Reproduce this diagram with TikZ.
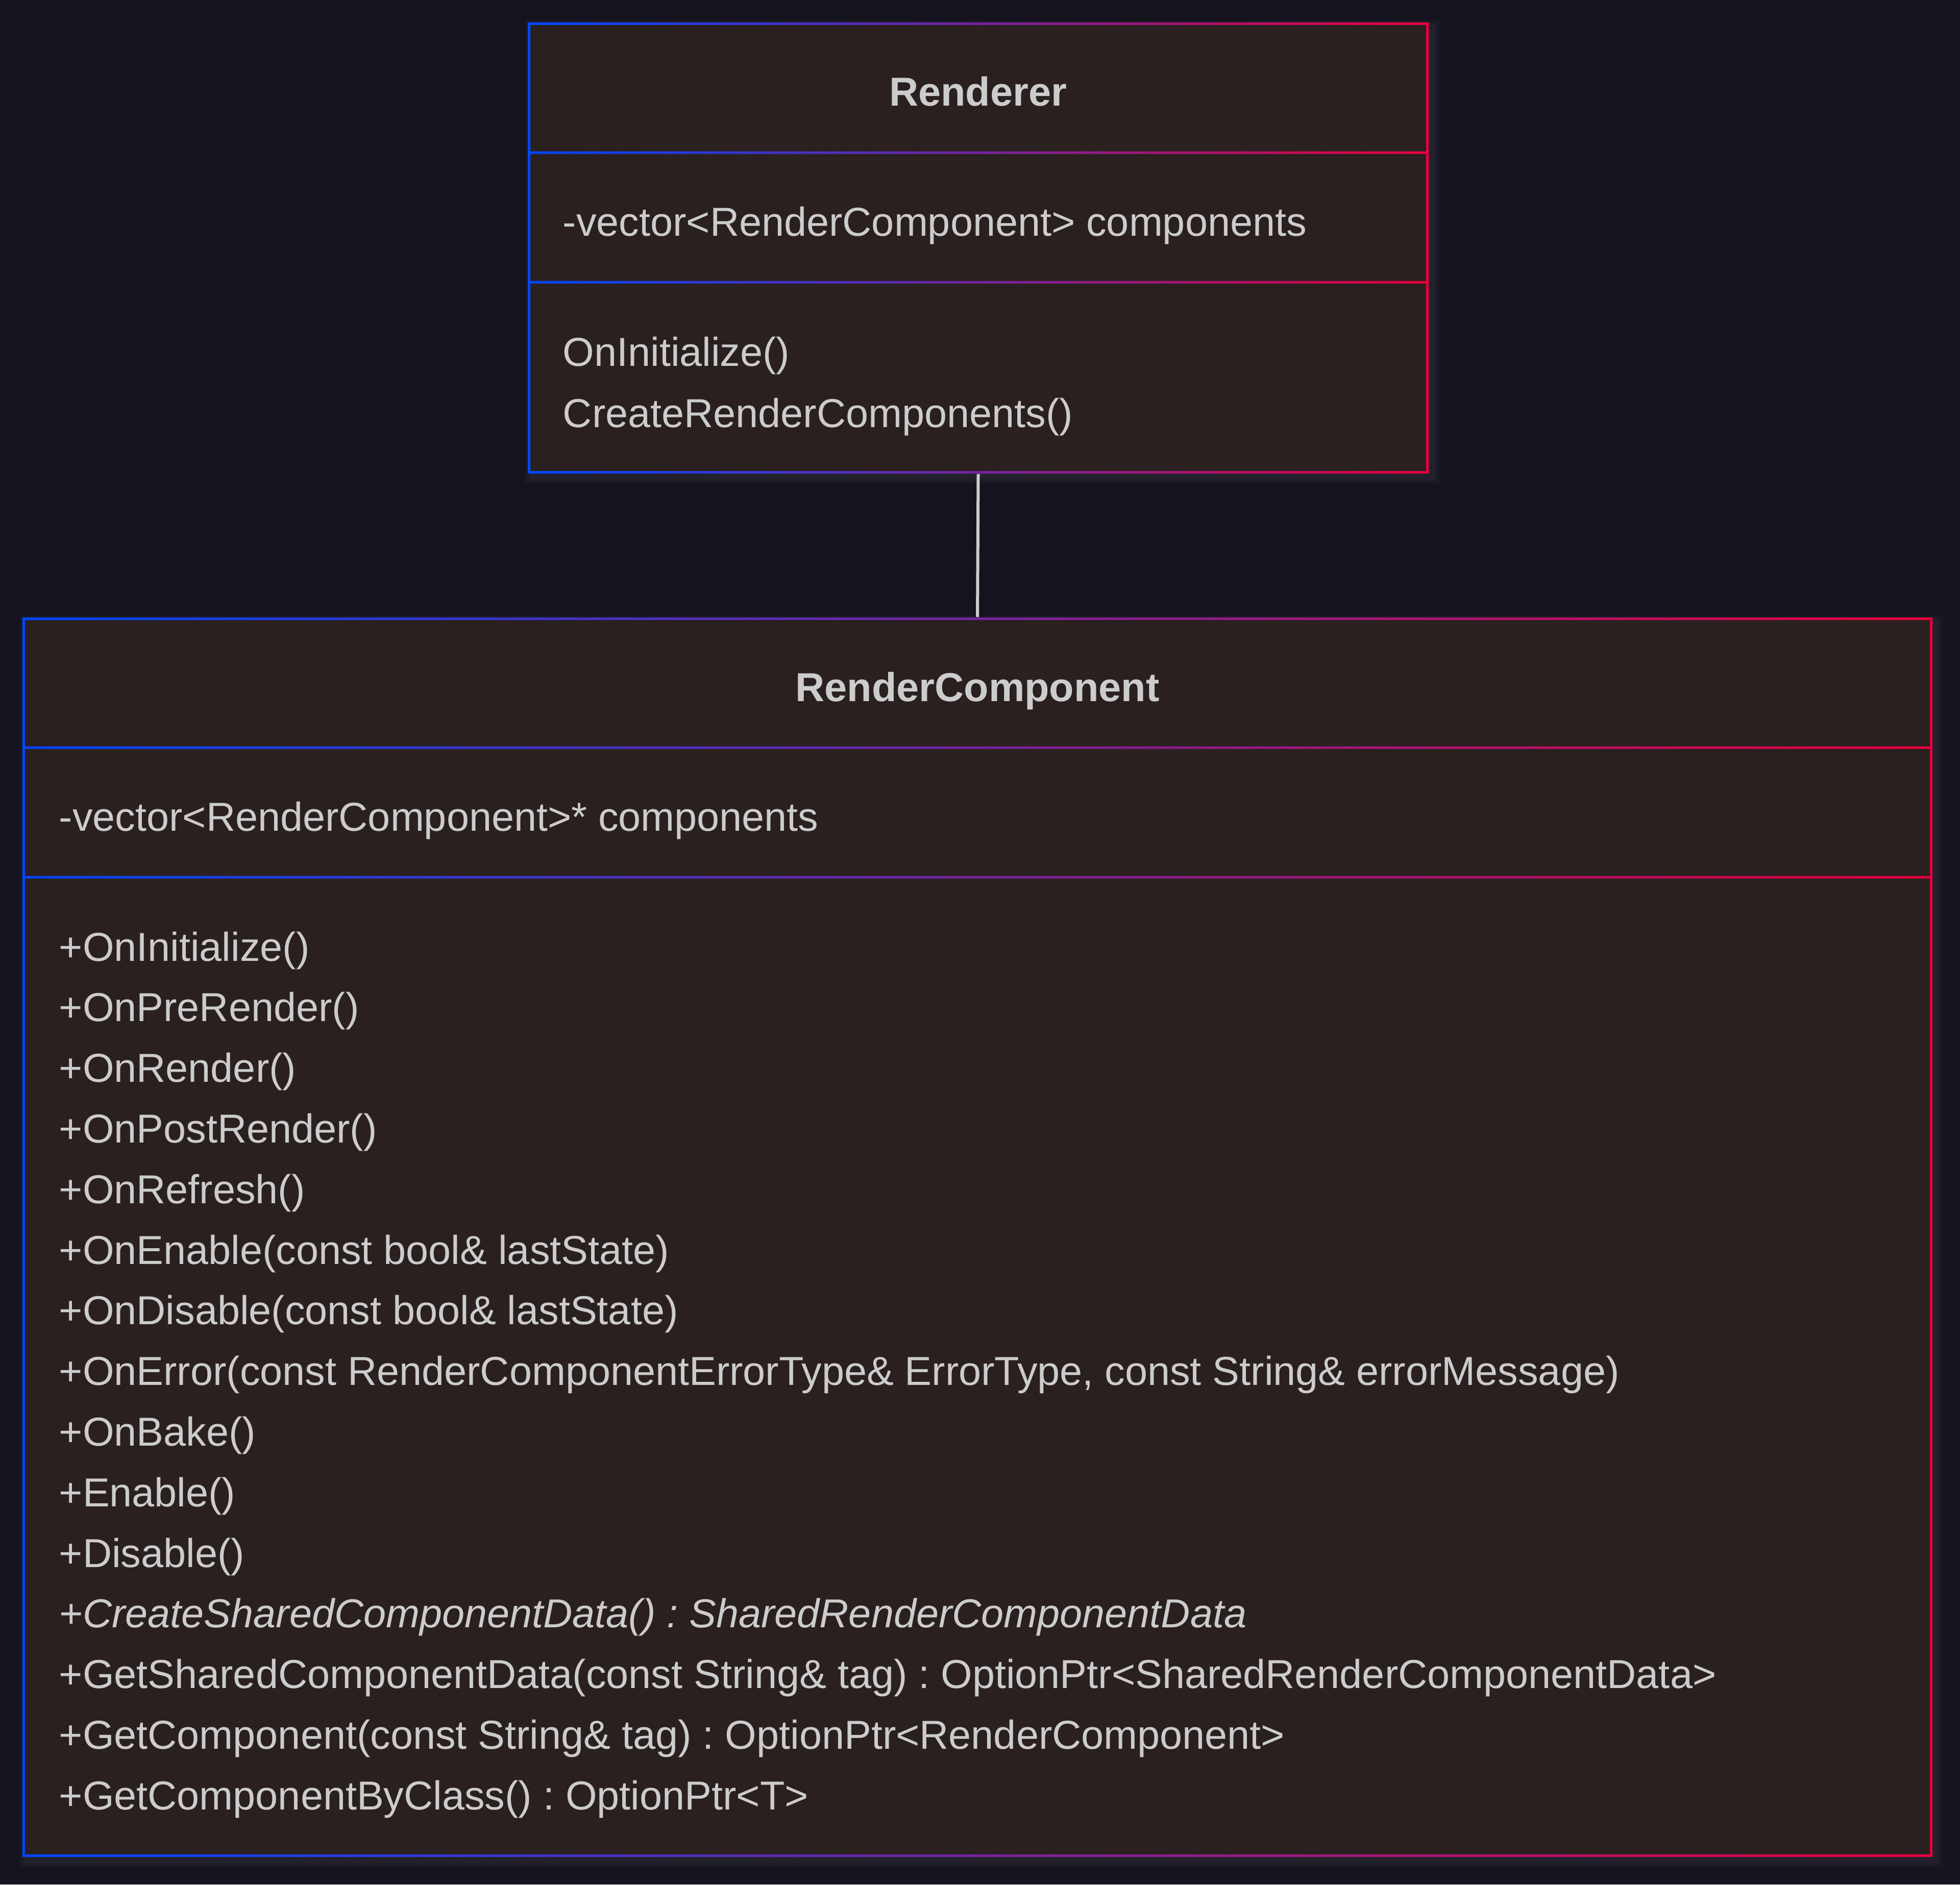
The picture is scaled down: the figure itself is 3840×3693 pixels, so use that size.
\documentclass[tikz,border=0pt]{standalone}
\usepackage{fontspec}
\setmainfont{Liberation Sans}
\usetikzlibrary{fit}
\frenchspacing

\definecolor{bgdark}{HTML}{15141E}
\definecolor{boxfill}{HTML}{2A2020}
\definecolor{txtgray}{HTML}{CCCCCC}
\definecolor{edgeblue}{HTML}{0047FF}
\definecolor{edgered}{HTML}{E8003D}

\tikzset{
  classbox/.style={inner sep=0pt, fill=boxfill},
  member/.style={anchor=base west, inner sep=0pt, text=txtgray, font=\fontsize{19.8}{24}\selectfont},
  classtitle/.style={member, anchor=base, font=\fontsize{19.8}{24}\selectfont\bfseries},
}

% soft glow behind a class box
\newcommand{\classglow}[4]{%
  \foreach \s in {2,4,...,14}
    \fill[white, opacity=0.012] ({#1-\s+8},{#2-\s+8}) rectangle ({#3+\s+8},{#4+\s+8});
}
% gradient frame with two compartment lines
\newcommand{\classoutline}[6]{%
  \shade[left color=edgeblue, right color=edgered, even odd rule]
    (#1,#2) rectangle (#3,#4)
    ({#1+5},{#2+5}) rectangle ({#3-5},{#5-2.5})
    ({#1+5},{#5+2.5}) rectangle ({#3-5},{#6-2.5})
    ({#1+5},{#6+2.5}) rectangle ({#3-5},{#4-5});
}

\begin{document}
\begin{tikzpicture}[x=0.25pt, y=-0.25pt]
  \fill[bgdark] (0,0) rectangle (3840,3693);
  \useasboundingbox (0,0) rectangle (3840,3693);

  % Boxes
  \classglow{1034}{44}{2799}{928}
  \classglow{44}{1210}{3786}{3639}
  \node[classbox, fit={(1034,44) (2799,928)}] (renderer) {};
  \node[classbox, fit={(44,1210) (3786,3639)}] (rendercomp) {};
  \classoutline{1034}{44}{2799}{928}{299}{553}
  \classoutline{44}{1210}{3786}{3639}{1465}{1719}

  % Renderer
  \node[classtitle] (rendererTitle) at (1916,208) {Renderer};
  \node[member] (rendererAttr) at (1102,462) {-vector<RenderComponent> components};
  \node[member] (rendererInit) at (1102,717) {OnInitialize()};
  \node[member] (rendererCreate) at (1102,837) {CreateRenderComponents()};

  % RenderComponent
  \node[classtitle] (compTitle) at (1915,1374) {RenderComponent};
  \node[member] (compAttr) at (115,1628) {-vector<RenderComponent>* components};
  \foreach \m [count=\i from 0] in {
      {+OnInitialize()},
      {+OnPreRender()},
      {+OnRender()},
      {+OnPostRender()},
      {+OnRefresh()},
      {+OnEnable(const bool\& lastState)},
      {+OnDisable(const bool\& lastState)},
      {+OnError(const RenderComponentErrorType\& ErrorType, const String\& errorMessage)},
      {+OnBake()},
      {+Enable()},
      {+Disable()},
      {\itshape +CreateSharedComponentData() : SharedRenderComponentData},
      {+GetSharedComponentData(const String\& tag) : OptionPtr<SharedRenderComponentData>},
      {+GetComponent(const String\& tag) : OptionPtr<RenderComponent>},
      {+GetComponentByClass() : OptionPtr<T>}}
    \node[member] (method\i) at (115,{1883+\i*118.8}) {\m};

  % Arrows
  \draw[txtgray, line width=1.5pt] (renderer.south) -- (rendercomp.north);
\end{tikzpicture}
\end{document}
